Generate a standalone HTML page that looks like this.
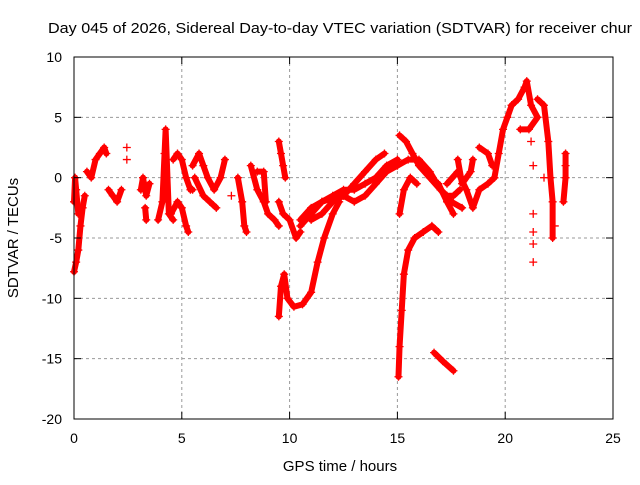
<!DOCTYPE html>
<html><head><meta charset="utf-8"><style>
body{margin:0;background:#fff;}
svg text{font-family:"Liberation Sans",sans-serif;}
</style></head><body>
<svg id="chart" width="640" height="480" xmlns="http://www.w3.org/2000/svg">
<rect width="640" height="480" fill="#fff"/>
<g id="grid"></g>
<g id="marks"></g>
<rect x="74" y="57" width="539" height="362" fill="none" stroke="#000" stroke-width="1"/>
<g id="ticks"></g>
<text x="48" y="33" font-size="15" textLength="584" lengthAdjust="spacingAndGlyphs">Day 045 of 2026, Sidereal Day-to-day VTEC variation (SDTVAR) for receiver chur</text>
<text x="340" y="471" font-size="15" text-anchor="middle">GPS time / hours</text>
<text x="0" y="0" font-size="15" text-anchor="middle" transform="translate(18,238) rotate(-90)">SDTVAR / TECUs</text>
</svg>
<script>
const xTicks=[0,5,10,15,20,25];
const yTicks=[-20,-15,-10,-5,0,5,10];
const tracks=[
[[0,-7.8],[0.1,-7],[0.2,-6],[0.3,-4],[0.4,-2.5],[0.5,-1.5]],
[[0,-2],[0.05,0],[0.1,-1],[0.2,-3]],
[[0.6,0.5],[0.8,0],[1.0,1.5],[1.2,2],[1.4,2.5],[1.5,2]],
[[1.6,-1],[1.8,-1.5],[2.0,-2],[2.2,-1]],
[[3.1,-1],[3.2,0],[3.35,-1.5],[3.5,-0.5]],
[[3.3,-2.5],[3.35,-3.5]],
[[3.9,-3.5],[4.1,-2],[4.2,2],[4.25,4],[4.4,-3],[4.6,-3.5]],
[[4.6,1.5],[4.8,2],[5.0,1.5],[5.2,0],[5.4,-1],[5.5,-1]],
[[4.5,-3],[4.8,-2],[5.0,-2.5],[5.2,-4],[5.3,-4.5]],
[[5.5,1],[5.8,2],[6.0,1],[6.2,0],[6.5,-1],[6.8,0],[7.0,1.5]],
[[5.6,0],[6.0,-1.5],[6.3,-2],[6.6,-2.5]],
[[7.6,0],[7.8,-2],[7.9,-4],[8.0,-4.5]],
[[8.2,1],[8.5,-1],[8.8,-2],[9.0,-3],[9.3,-3.5],[9.5,-4]],
[[8.5,0.5],[8.8,0.5],[8.9,-2]],
[[9.5,-2],[9.7,-3],[10.0,-3.5],[10.3,-5],[10.5,-4.5]],
[[9.5,3],[9.6,2],[9.7,1],[9.8,0]],
[[9.5,-11.5],[9.6,-9],[9.75,-8],[9.9,-10],[10.2,-10.7],[10.6,-10.5],[11,-9.5],[11.3,-7],[11.6,-5],[12,-3],[12.3,-2]],
[[10.5,-4],[11,-3],[11.5,-2],[12,-1.5],[12.5,-1],[13,-1],[13.5,-0.5],[14,0],[14.5,1],[15,1.5]],
[[11,-3.5],[11.5,-3],[12,-2],[12.5,-1.5],[13,-0.5],[13.5,0.5],[14,1.5],[14.4,2]],
[[10.5,-3.5],[11,-2.5],[11.5,-2],[12,-1.7],[12.5,-1.5],[13,-2],[13.5,-1.5],[14,-0.5],[14.5,0.5],[15,1]],
[[15.1,3.5],[15.4,3],[15.7,2],[16,1],[16.5,0],[17,-1],[17.3,-1.5],[17.6,-1.5],[17.9,-1]],
[[15.1,-3],[15.3,-1],[15.6,0],[15.9,-0.5]],
[[15,1],[15.5,1.5],[16,1.5],[16.5,0.5],[17,-1],[17.5,-2],[18,-2.5]],
[[15.05,-16.5],[15.1,-14],[15.2,-11],[15.3,-8],[15.5,-6],[15.8,-5],[16.2,-4.5],[16.6,-4],[16.9,-4.5]],
[[16.7,-14.5],[17.1,-15.2],[17.6,-16]],
[[16.9,-0.5],[17.3,-2],[17.6,-3]],
[[17.3,-0.5],[17.8,0.5],[18.2,-1],[18.5,-2.5],[18.8,-1],[19.2,-0.5],[19.5,0]],
[[17.8,1.5],[18,-0.5],[18.4,0.5],[18.5,1.5]],
[[18.8,2.5],[19.2,2],[19.4,1]],
[[19.5,0],[19.7,2],[19.9,4],[20.1,5],[20.3,6]],
[[20.3,6],[20.6,6.5],[20.9,7.5],[21.0,8],[21.2,6],[21.5,5],[21.1,4],[20.7,4]],
[[21.5,6.5],[21.8,6],[22,3],[22.1,0],[22.2,-2],[22.2,-5]],
[[22.8,2],[22.8,0],[22.7,-2]]
];
const sparse=[[2.45,2.5],[2.45,1.5],[21.2,3],[21.3,1],[21.3,-3],[21.3,-4.5],[21.3,-5.5],[21.3,-7],[21.8,0],[22.3,-4],[22.8,1],[7.3,-1.5]];
const NS="http://www.w3.org/2000/svg";
const X=t=>74+t*539/25, Y=v=>57+(10-v)*362/30;
const grid=document.getElementById('grid'),ticks=document.getElementById('ticks'),marks=document.getElementById('marks');
function mk(tag,a,p){const e=document.createElementNS(NS,tag);for(const k in a)e.setAttribute(k,a[k]);p.appendChild(e);return e;}
xTicks.forEach(t=>{
 if(t>0&&t<25){const g=mk('line',{x1:X(t),x2:X(t),y1:57,y2:419,stroke:'#999','stroke-dasharray':'3,3'},grid);
 
 }
 mk('line',{x1:X(t),x2:X(t),y1:419,y2:412,stroke:'#000'},ticks);
 mk('line',{x1:X(t),x2:X(t),y1:57,y2:64,stroke:'#000'},ticks);
 const tx=mk('text',{x:X(t),y:443,'font-size':14,'text-anchor':'middle'},ticks);tx.textContent=t;
 
 
});
yTicks.forEach(v=>{
 if(v>-20&&v<10){const g=mk('line',{x1:74,x2:613,y1:Y(v),y2:Y(v),stroke:'#999','stroke-dasharray':'3,3'},grid);
 
 }
 mk('line',{x1:74,x2:81,y1:Y(v),y2:Y(v),stroke:'#000'},ticks);
 mk('line',{x1:613,x2:606,y1:Y(v),y2:Y(v),stroke:'#000'},ticks);
 const tx=mk('text',{x:62,y:Y(v)+5,'font-size':14,'text-anchor':'end'},ticks);tx.textContent=v;
 
 
});
function plus(t,v){mk('path',{d:`M${X(t)-4},${Y(v)}h8M${X(t)},${Y(v)-4}v8`,stroke:'#f00','stroke-width':1.3,fill:'none'},marks);}
tracks.forEach(tr=>{
 const pl=mk('polyline',{points:tr.map(p=>X(p[0])+','+Y(p[1])).join(' '),fill:'none',stroke:'#f00','stroke-width':6,'stroke-linejoin':'round','stroke-linecap':'round'},marks);
 
 
 tr.forEach(p=>plus(p[0],p[1]));
});
sparse.forEach(p=>plus(p[0],p[1]));
</script>
</body></html>
